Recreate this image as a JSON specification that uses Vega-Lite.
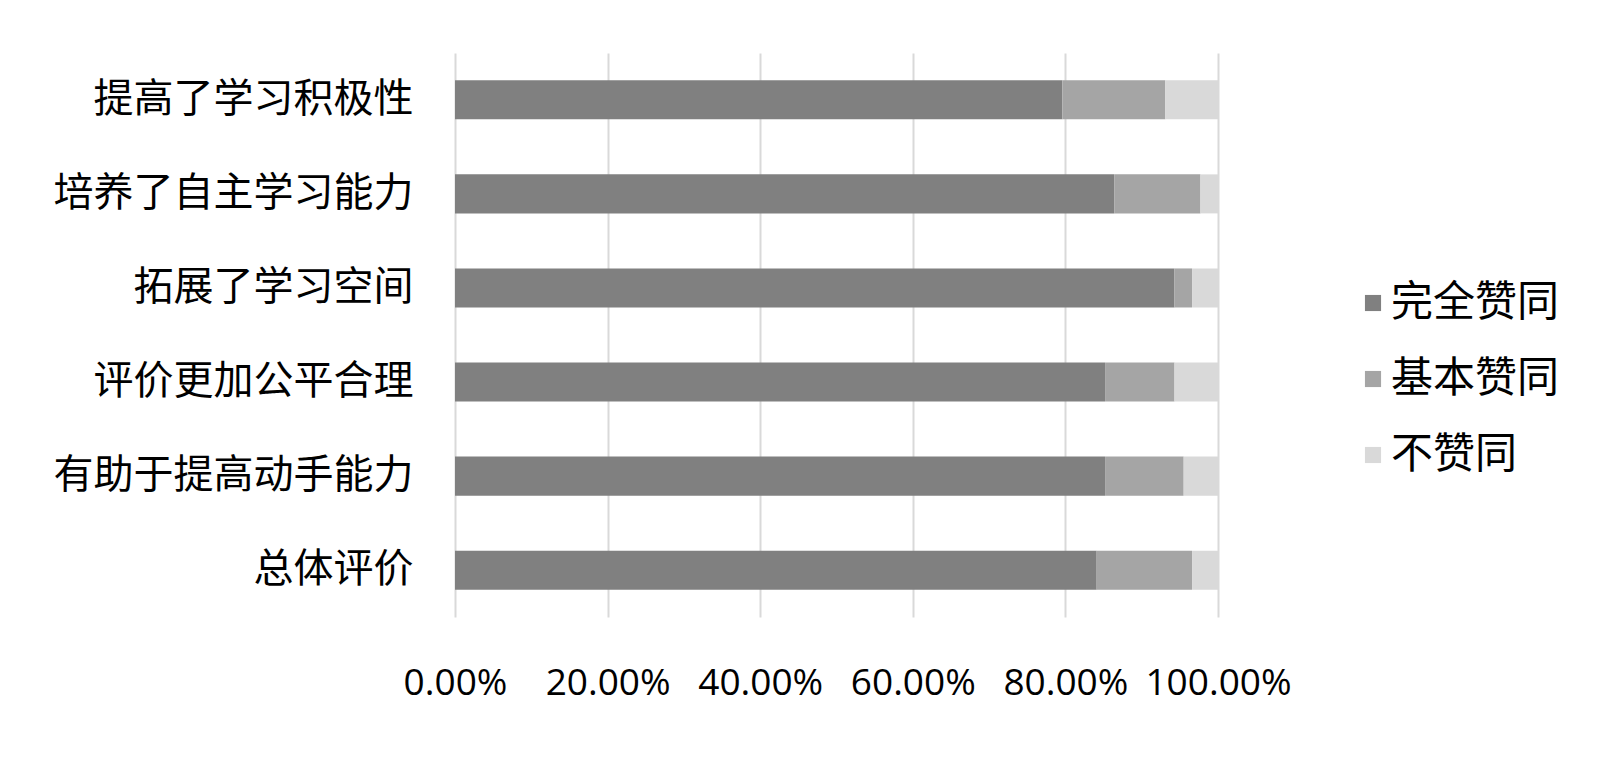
{
  "$schema": "https://vega.github.io/schema/vega-lite/v6.json",
  "autosize": "none",
  "width": 763,
  "height": 564,
  "padding": {"left": 455, "top": 53, "right": 382, "bottom": 142},
  "background": "white",
  "data": {"values": [
    {"item": "提高了学习积极性", "level": "完全赞同", "k": 1, "v": 0.796},
    {"item": "提高了学习积极性", "level": "基本赞同", "k": 2, "v": 0.135},
    {"item": "提高了学习积极性", "level": "不赞同", "k": 3, "v": 0.069},
    {"item": "培养了自主学习能力", "level": "完全赞同", "k": 1, "v": 0.864},
    {"item": "培养了自主学习能力", "level": "基本赞同", "k": 2, "v": 0.113},
    {"item": "培养了自主学习能力", "level": "不赞同", "k": 3, "v": 0.023},
    {"item": "拓展了学习空间", "level": "完全赞同", "k": 1, "v": 0.943},
    {"item": "拓展了学习空间", "level": "基本赞同", "k": 2, "v": 0.023},
    {"item": "拓展了学习空间", "level": "不赞同", "k": 3, "v": 0.034},
    {"item": "评价更加公平合理", "level": "完全赞同", "k": 1, "v": 0.852},
    {"item": "评价更加公平合理", "level": "基本赞同", "k": 2, "v": 0.091},
    {"item": "评价更加公平合理", "level": "不赞同", "k": 3, "v": 0.057},
    {"item": "有助于提高动手能力", "level": "完全赞同", "k": 1, "v": 0.852},
    {"item": "有助于提高动手能力", "level": "基本赞同", "k": 2, "v": 0.103},
    {"item": "有助于提高动手能力", "level": "不赞同", "k": 3, "v": 0.045},
    {"item": "总体评价", "level": "完全赞同", "k": 1, "v": 0.841},
    {"item": "总体评价", "level": "基本赞同", "k": 2, "v": 0.125},
    {"item": "总体评价", "level": "不赞同", "k": 3, "v": 0.034}
  ]},
  "mark": {"type": "bar"},
  "encoding": {
    "y": {
      "field": "item", "type": "nominal",
      "sort": ["提高了学习积极性", "培养了自主学习能力", "拓展了学习空间", "评价更加公平合理", "有助于提高动手能力", "总体评价"],
      "scale": {"paddingInner": 0.585, "paddingOuter": 0.29},
      "axis": {"title": null, "domain": false, "ticks": false, "labelPadding": 42, "labelFontSize": 40, "labelFont": "Noto Sans CJK SC", "labelColor": "#000000", "labelLimit": 600}
    },
    "x": {
      "field": "v", "type": "quantitative", "stack": "zero",
      "scale": {"domain": [0, 1], "nice": false},
      "axis": {"title": null, "domain": false, "ticks": false, "grid": true, "gridColor": "#d9d9d9", "gridWidth": 2, "values": [0, 0.2, 0.4, 0.6, 0.8, 1], "format": ".2%", "labelPadding": 48, "labelFontSize": 37, "labelFont": "Open Sans", "labelColor": "#000000", "labelFlush": false, "labelOverlap": false}
    },
    "color": {
      "field": "level", "type": "nominal",
      "scale": {"domain": ["完全赞同", "基本赞同", "不赞同"], "range": ["#808080", "#a5a5a5", "#d9d9d9"]},
      "legend": {"title": null, "orient": "none", "legendX": 897, "legendY": 229, "symbolType": "square", "symbolSize": 260, "symbolStrokeWidth": 0, "labelFontSize": 42, "labelFont": "Noto Sans CJK SC", "labelColor": "#000000", "labelOffset": -3, "labelLimit": 400, "rowPadding": 34}
    },
    "order": {"field": "k", "type": "quantitative"}
  },
  "config": {"view": {"stroke": null}}
}
